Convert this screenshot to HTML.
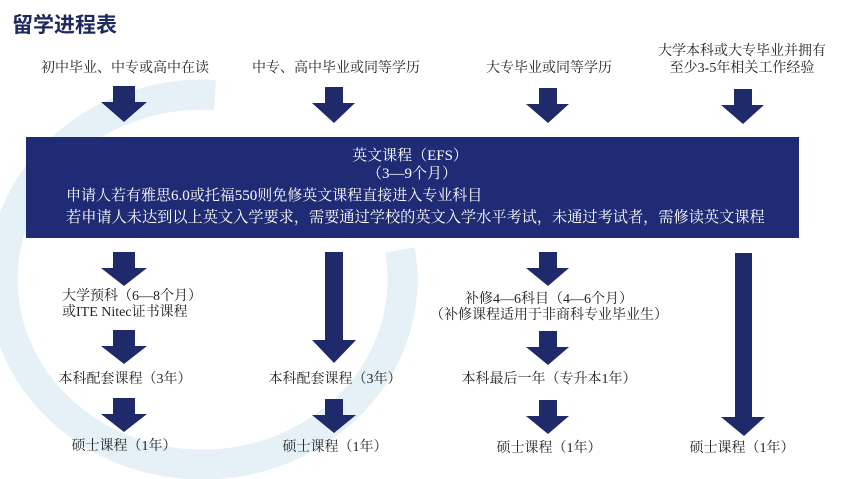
<!DOCTYPE html>
<html><head><meta charset="utf-8"><style>
html,body{margin:0;width:859px;height:479px;overflow:hidden;}
body{background:#fff;position:relative;font-family:"Liberation Serif","Noto Serif CJK SC",serif;color:#222;}
.t{position:absolute;white-space:nowrap;font-size:14px;line-height:16px;transform:translateX(-50%);}
.w{color:#fff;font-size:15px;}
</style></head><body>
<svg width="859" height="479" style="position:absolute;left:0;top:0">
<path d="M 215 95 A 200 185 0 1 0 400 250" fill="none" stroke="#e6f0f7" stroke-width="30"/>
<rect x="26" y="137" width="773" height="101" fill="#1f2b74"/>
<g fill="#1f2a6b">
<path d="M113 86h22v16h12l-23 20l-23-20h12z"/>
<path d="M325 87h18v16h12l-21 20l-22-20h13z"/>
<path d="M539 88h18v16h12l-21 19l-22-19h13z"/>
<path d="M734 89h18v16h12l-21 19l-22-19h13z"/>
<path d="M113 252h22v16h12l-23 18l-23-18h12z"/>
<path d="M113 330h22v16h12l-23 18l-23-18h12z"/>
<path d="M113 398h22v16h12l-23 18l-23-18h12z"/>
<path d="M325 252h18v88h13l-22 23l-22-23h13z"/>
<path d="M325 399h18v16h13l-22 18l-22-18h13z"/>
<path d="M539 252h18v16h12l-21 18l-22-18h13z"/>
<path d="M539 331h18v16h12l-21 18l-22-18h13z"/>
<path d="M539 400h18v16h12l-21 18l-22-18h13z"/>
<path d="M735 253h17v164h13l-21 19l-23-19h14z"/>
</g>
</svg>
<div style="position:absolute;left:12px;top:9px;font-family:'Liberation Sans','Noto Sans CJK SC',sans-serif;font-weight:bold;font-size:21px;color:#1e2a5e;">留学进程表</div>
<div class="t" style="left:125px;top:61px">初中毕业、中专或高中在读</div>
<div class="t" style="left:336px;top:61px">中专、高中毕业或同等学历</div>
<div class="t" style="left:549px;top:61px">大专毕业或同等学历</div>
<div class="t" style="left:742px;top:43px;text-align:center;line-height:17px">大学本科或大专毕业并拥有<br>至少3-5年相关工作经验</div>
<div class="t w" style="left:410px;top:148px">英文课程（EFS）</div>
<div class="t w" style="left:412px;top:166px">（3—9个月）</div>
<div class="w" style="position:absolute;left:66px;top:187px;white-space:nowrap;line-height:18px">申请人若有雅思6.0或托福550则免修英文课程直接进入专业科目</div>
<div class="w" style="position:absolute;left:66px;top:209px;white-space:nowrap;line-height:18px;font-size:15.2px">若申请人未达到以上英文入学要求，需要通过学校的英文入学水平考试，未通过考试者，需修读英文课程</div>
<div style="position:absolute;left:62px;top:289px;font-size:14px;line-height:16px;white-space:nowrap">大学预科（6—8个月）<br>或ITE Nitec证书课程</div>
<div class="t" style="left:125px;top:372px">本科配套课程（3年）</div>
<div class="t" style="left:124px;top:439px">硕士课程（1年）</div>
<div class="t" style="left:335px;top:372px">本科配套课程（3年）</div>
<div class="t" style="left:335px;top:440px">硕士课程（1年）</div>
<div class="t" style="left:549px;top:292px;text-align:center">补修4—6科目（4—6个月）<br>（补修课程适用于非商科专业毕业生）</div>
<div class="t" style="left:549px;top:372px">本科最后一年（专升本1年）</div>
<div class="t" style="left:549px;top:441px">硕士课程（1年）</div>
<div class="t" style="left:742px;top:441px">硕士课程（1年）</div>
</body></html>
